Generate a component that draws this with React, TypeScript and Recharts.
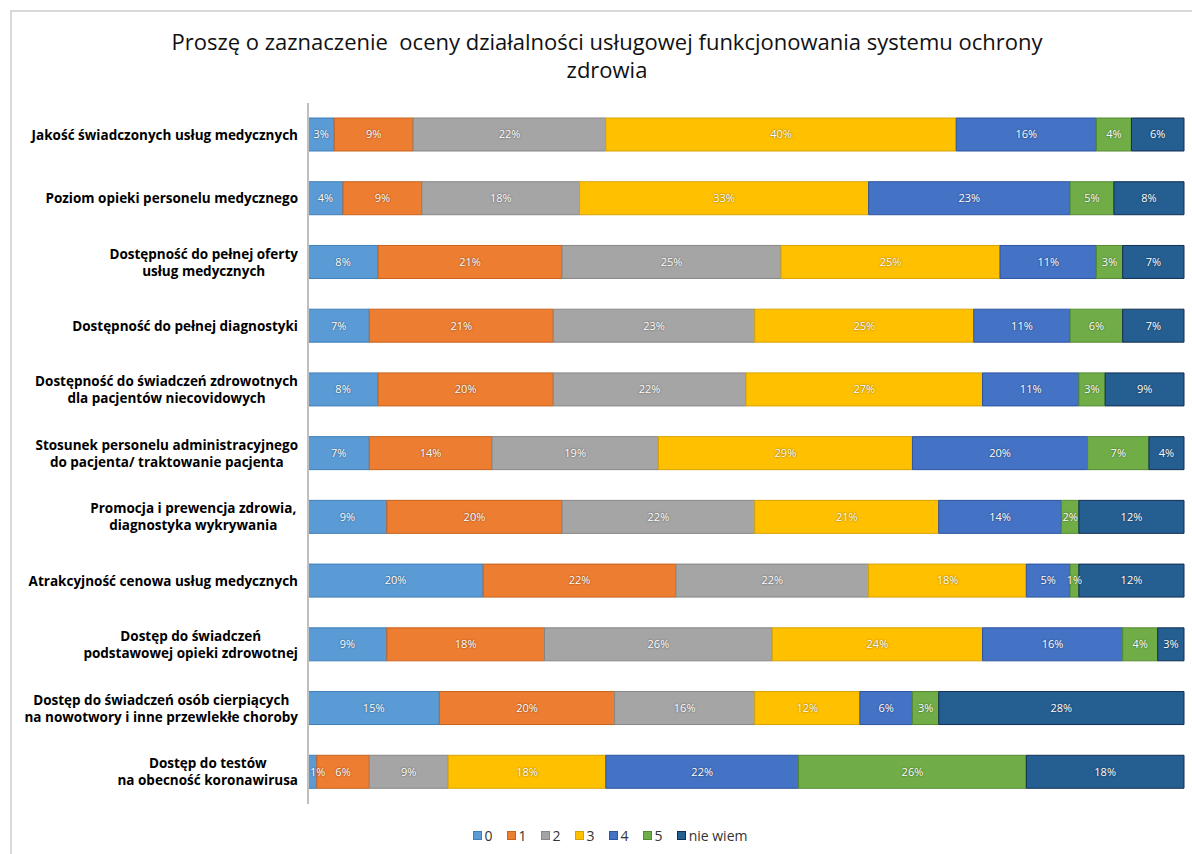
import React from "react";
import { BarChart, Bar, XAxis, YAxis, LabelList } from "recharts";

const categories = [
  "Jakość świadczonych usług medycznych",
  "Poziom opieki personelu medycznego",
  "Dostępność do pełnej oferty\nusług medycznych",
  "Dostępność do pełnej diagnostyki",
  "Dostępność do świadczeń zdrowotnych\ndla pacjentów niecovidowych",
  "Stosunek personelu administracyjnego\ndo pacjenta/ traktowanie pacjenta",
  "Promocja i prewencja  zdrowia,\ndiagnostyka wykrywania",
  "Atrakcyjność cenowa usług medycznych",
  "Dostęp do świadczeń\npodstawowej opieki zdrowotnej",
  "Dostęp do świadczeń osób cierpiących\nna nowotwory i inne przewlekłe choroby",
  "Dostęp do testów\nna obecność koronawirusa",
];

const ocena0 = [3, 4, 8, 7, 8, 7, 9, 20, 9, 15, 1];
const ocena1 = [9, 9, 21, 21, 20, 14, 20, 22, 18, 20, 6];
const ocena2 = [22, 18, 25, 23, 22, 19, 22, 22, 26, 16, 9];
const ocena3 = [40, 33, 25, 25, 27, 29, 21, 18, 24, 12, 18];
const ocena4 = [16, 23, 11, 11, 11, 20, 14, 5, 16, 6, 22];
const ocena5 = [4, 5, 3, 6, 3, 7, 2, 1, 4, 3, 26];
const nieWiem = [6, 8, 7, 7, 9, 4, 12, 12, 3, 28, 18];

const seriesNames = ["0", "1", "2", "3", "4", "5", "nie wiem"];
const seriesValues = [ocena0, ocena1, ocena2, ocena3, ocena4, ocena5, nieWiem];
const COLORS = ["#5B9BD5", "#ED7D31", "#A5A5A5", "#FFC000", "#4472C4", "#70AD47", "#255E91"];
const EDGES = ["#3f7fb8", "#c8621c", "#878787", "#d9a300", "#2c54a0", "#548a30", "#112f52"];

const data = categories.map((name, i) => {
  const row: any = { name };
  seriesNames.forEach((s, k) => {
    row["s" + k] = seriesValues[k][i];
  });
  return row;
});

const FONT = "'Open Sans', 'Noto Sans', sans-serif";
const TICK_SIZE = 13.5;
const PLOT_LEFT = 308;

let ctx: CanvasRenderingContext2D | null = null;
function measure(text: string, font: string) {
  if (!ctx) ctx = document.createElement("canvas").getContext("2d");
  if (!ctx) return text.length * 7;
  ctx.font = font;
  return ctx.measureText(text).width;
}

const CategoryTick = (props: any) => {
  const { x, y, payload } = props;
  const lines = String(payload.value).split("\n");
  const font = `bold ${TICK_SIZE}px ${FONT}`;
  const maxW = Math.max(...lines.map((l) => measure(l, font)));
  const right = x - 2;
  const cx = right - maxW / 2;
  const lh = 17;
  const startY = y - ((lines.length - 1) * lh) / 2;
  return (
    <text fontFamily={FONT} fontSize={TICK_SIZE} fontWeight="bold" fill="#000" textAnchor="middle">
      {lines.map((l, i) => (
        <tspan key={i} x={cx} y={startY + i * lh} dy="0.35em">
          {l}
        </tspan>
      ))}
    </text>
  );
};

// centred label, nudged right when it would spill past the axis
const SegmentLabel = (props: any) => {
  const { x, y, width, height, value } = props;
  const text = `${value}%`;
  const w = measure(text, `11px ${FONT}`);
  let cx = Number(x) + Number(width) / 2;
  if (cx - w / 2 < PLOT_LEFT + 2) cx = PLOT_LEFT + 2 + w / 2;
  return (
    <text
      x={cx}
      y={Number(y) + Number(height) / 2}
      dy="0.35em"
      textAnchor="middle"
      fill="#fff"
      fontSize={11}
      fontFamily={FONT}
      style={{ textShadow: "0 0 2px rgba(0,0,0,0.6)" }}
    >
      {text}
    </text>
  );
};

const LegendBox = () => (
  <div
    style={{
      position: "absolute",
      left: 0,
      top: 826,
      width: 1220,
      display: "flex",
      justifyContent: "center",
      gap: 14,
      fontFamily: FONT,
      fontSize: 14,
      color: "#333",
    }}
  >
    {seriesNames.map((s, k) => (
      <div key={s} style={{ display: "flex", alignItems: "center", gap: 3 }}>
        <span
          style={{
            display: "inline-block",
            width: 7,
            height: 7,
            background: COLORS[k],
            border: `1px solid ${EDGES[k]}`,
          }}
        />
        <span>{s}</span>
      </div>
    ))}
  </div>
);

export default function App() {
  return (
    <div style={{ position: "absolute", left: 0, top: 0, width: 1192, height: 854, background: "#fff", overflow: "hidden" }}>
      <div
        style={{
          position: "absolute",
          left: 10,
          top: 10,
          width: 1200,
          height: 900,
          borderLeft: "2px solid #d9d9d9",
          borderTop: "2px solid #d9d9d9",
        }}
      />
      <div
        style={{
          position: "absolute",
          left: 0,
          top: 27,
          width: 1214,
          textAlign: "center",
          fontFamily: FONT,
          fontSize: 22,
          lineHeight: "28px",
          color: "#111",
        }}
      >
        Proszę o zaznaczenie&nbsp; oceny działalności usługowej funkcjonowania systemu ochrony
        <br />
        zdrowia
      </div>
      <div style={{ position: "absolute", left: 0, top: 0 }}>
        <BarChart
          width={1192}
          height={854}
          data={data}
          layout="vertical"
          margin={{ top: 103, right: 8, bottom: 50, left: 8 }}
          barSize={33}
        >
          <XAxis type="number" domain={[0, 100]} hide />
          <YAxis
            type="category"
            dataKey="name"
            width={300}
            tick={<CategoryTick />}
            tickLine={false}
            axisLine={{ stroke: "#bfbfbf", strokeWidth: 2 }}
            interval={0}
          />
          {seriesNames.map((s, k) => (
            <Bar
              key={s}
              dataKey={"s" + k}
              name={s}
              stackId="a"
              fill={COLORS[k]}
              stroke={EDGES[k]}
              strokeWidth={1}
              isAnimationActive={false}
            >
              <LabelList dataKey={"s" + k} content={<SegmentLabel />} />
            </Bar>
          ))}
        </BarChart>
      </div>
      <LegendBox />
    </div>
  );
}
